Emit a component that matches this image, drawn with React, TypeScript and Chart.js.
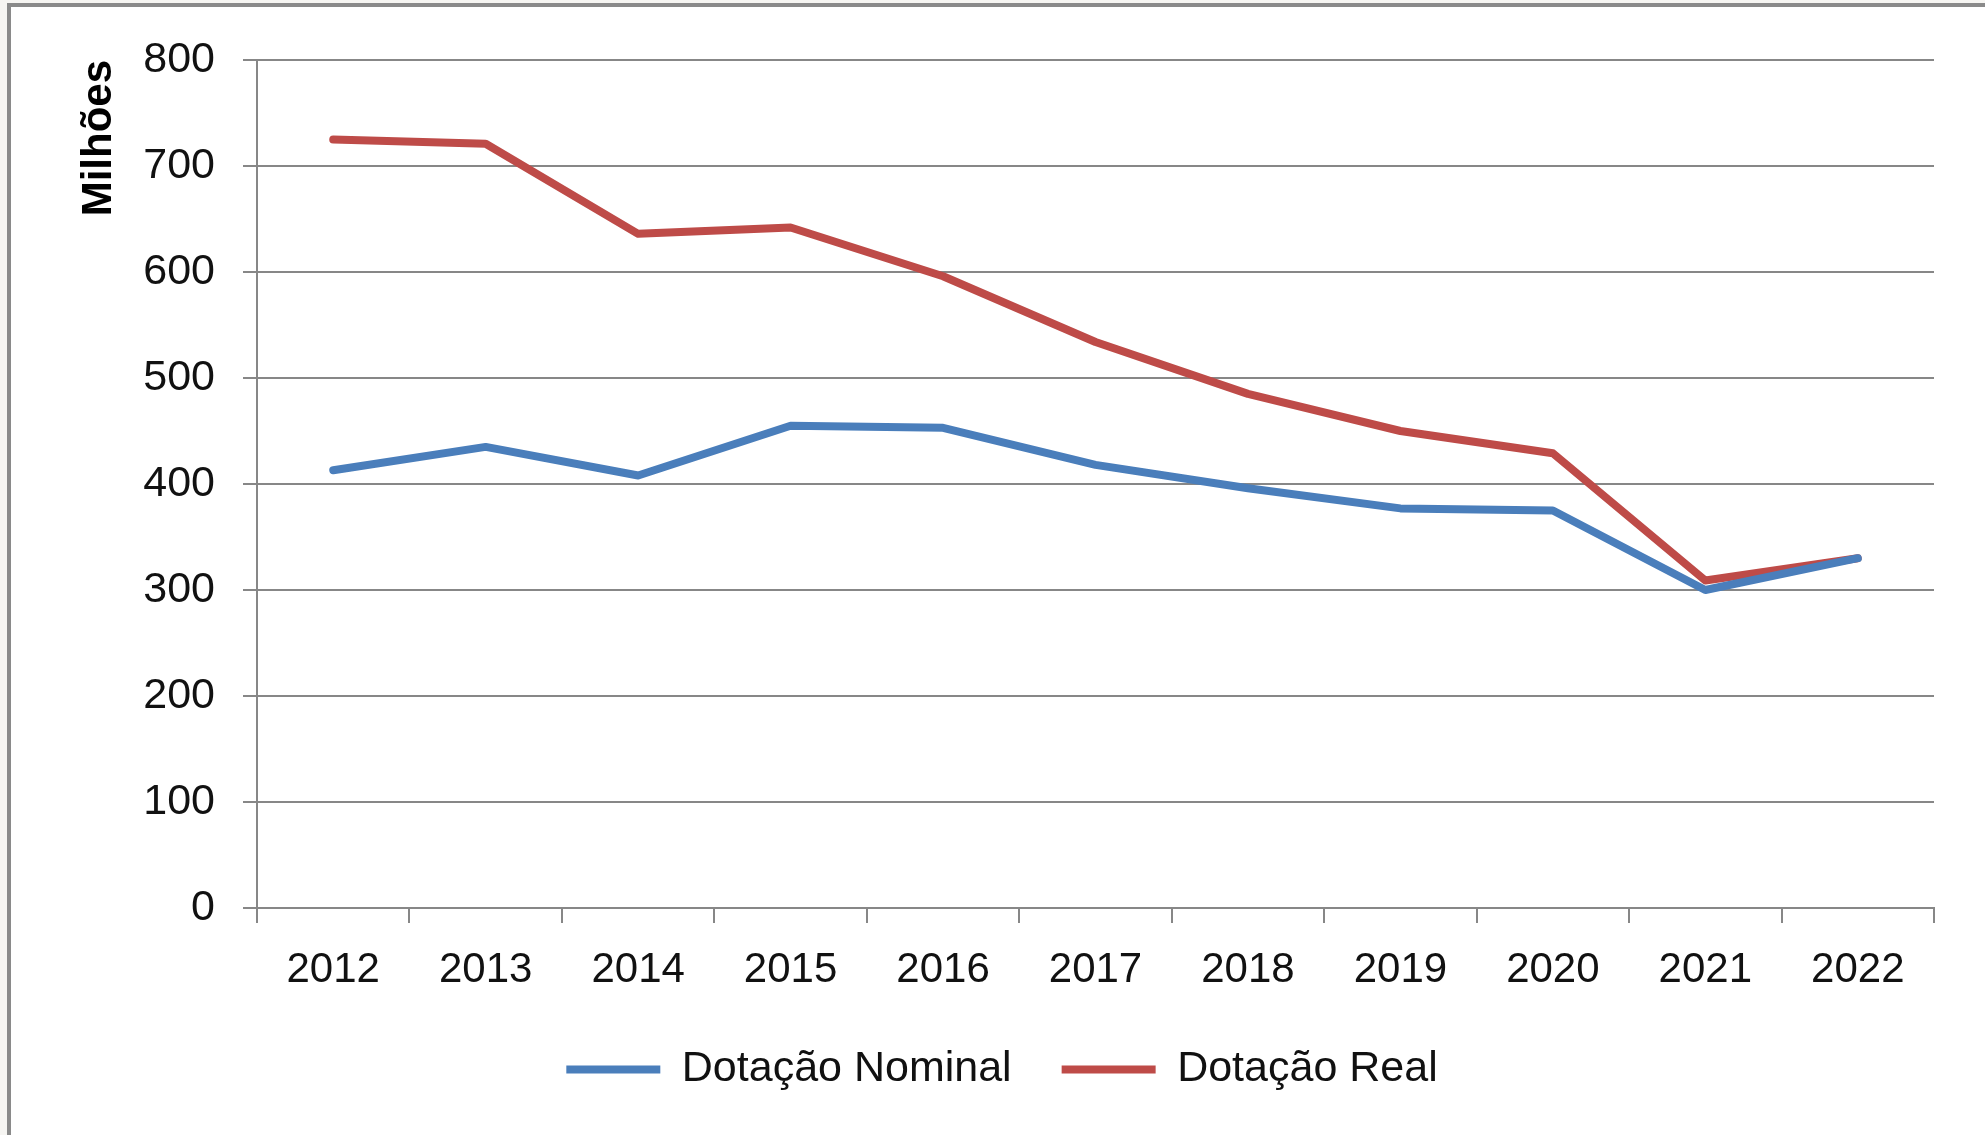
import React, { useEffect, useRef } from "react";
import { Chart, registerables } from "chart.js";

Chart.register(...registerables);

const categories = ["2012", "2013", "2014", "2015", "2016", "2017", "2018", "2019", "2020", "2021", "2022"];
const nominalValues = [413, 435, 408, 455, 453, 418, 396, 377, 375, 300, 330];
const realValues = [725, 721, 636, 642, 596, 534, 485, 450, 429, 309, 330];
const seriesNames = ["Dotação Nominal", "Dotação Real"];
const yAxisTitle = "Milhões";
const yMin = 0;
const yMax = 800;
const yStep = 100;

const FONT = "'Liberation Sans', Arial, sans-serif";
const GRID = "#878787";

export default function App() {
  const canvasRef = useRef<HTMLCanvasElement | null>(null);

  useEffect(() => {
    const canvas = canvasRef.current;
    if (!canvas) return;
    const chart = new Chart(canvas, {
      type: "line",
      data: {
        labels: categories,
        datasets: [
          {
            label: seriesNames[0],
            data: nominalValues,
            borderColor: "#4a7ebb",
            backgroundColor: "#4a7ebb",
            borderWidth: 8,
            pointRadius: 0,
            tension: 0,
            borderCapStyle: "round",
            borderJoinStyle: "round",
          },
          {
            label: seriesNames[1],
            data: realValues,
            borderColor: "#be4b48",
            backgroundColor: "#be4b48",
            borderWidth: 8,
            pointRadius: 0,
            tension: 0,
            borderCapStyle: "round",
            borderJoinStyle: "round",
          },
        ],
      },
      options: {
        animation: false,
        responsive: false,
        maintainAspectRatio: false,
        layout: { padding: { left: 70, right: 51, top: 60, bottom: 34 } },
        plugins: {
          legend: {
            position: "bottom",
            labels: {
              usePointStyle: true,
              pointStyle: "line",
              pointStyleWidth: 94,
              padding: 50,
              color: "#111",
              font: { family: FONT, size: 43 },
            },
          },
          tooltip: { enabled: false },
        },
        scales: {
          x: {
            type: "category",
            offset: true,
            grid: {
              offset: true,
              drawOnChartArea: false,
              drawTicks: true,
              tickLength: 15,
              color: GRID,
              lineWidth: 2,
            },
            border: { display: true, color: GRID, width: 2 },
            ticks: {
              color: "#111",
              padding: 22,
              maxRotation: 0,
              autoSkip: false,
              font: { family: FONT, size: 42 },
            },
            afterFit: (scale: any) => {
              scale.height = 90;
            },
          },
          y: {
            min: yMin,
            max: yMax,
            grid: {
              color: GRID,
              lineWidth: 2,
              drawTicks: true,
              tickLength: 14,
            },
            border: { display: true, color: GRID, width: 2 },
            ticks: {
              stepSize: yStep,
              color: "#111",
              padding: 28,
              font: { family: FONT, size: 43 },
            },
            title: {
              display: true,
              text: yAxisTitle,
              align: "end",
              color: "#000",
              font: { family: FONT, size: 42, weight: "bold" },
              padding: { top: 4, bottom: 4 },
            },
            afterFit: (scale: any) => {
              scale.width = 257 - 70;
            },
          },
        },
      },
    });
    return () => chart.destroy();
  }, []);

  return (
    <div
      style={{
        position: "fixed",
        left: 0,
        top: 0,
        width: 1985,
        height: 1135,
        background: "#f6f5f2",
        overflow: "hidden",
      }}
    >
      <div
        style={{
          position: "absolute",
          left: 7,
          top: 3,
          width: 1985 - 7 - 3,
          height: 1200,
          background: "#ffffff",
          borderLeft: "4px solid #8a8a8a",
          borderTop: "4px solid #8a8a8a",
          borderRight: "1px solid #e0e0e0",
        }}
      />
      <canvas
        ref={canvasRef}
        width={1985}
        height={1135}
        style={{ position: "absolute", left: 0, top: 0, width: 1985, height: 1135 }}
      />
    </div>
  );
}
